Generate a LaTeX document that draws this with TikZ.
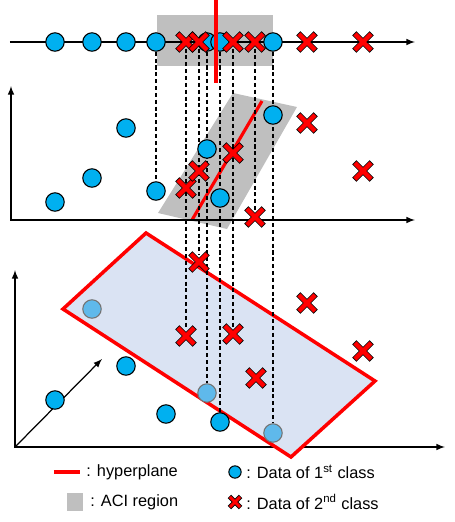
\documentclass[tikz,border=0pt]{standalone}
\usepackage{fontspec}
\setmainfont{Liberation Sans}
\usetikzlibrary{shapes.misc}
\definecolor{dotblue}{RGB}{0,176,240}
\definecolor{fadeblue}{RGB}{95,185,235}
\definecolor{regiongray}{RGB}{191,191,191}
\definecolor{planeblue}{RGB}{218,227,243}
\pgfdeclarelayer{back}
\pgfdeclarelayer{guides}
\pgfsetlayers{back,guides,main}

\begin{document}
\begin{tikzpicture}[x=0.02cm,y=-0.02cm,
  every node/.style={font=\fontsize{9.3}{11}\selectfont},
  dot/.style={draw=black,circle,fill=dotblue,line width=0.6pt,minimum size=10.5pt,inner sep=0pt},
  dotfade/.style={dot,draw=black!55,fill=fadeblue},
  crs/.style={cross out,draw=black,line width=0.45pt,double=red,double distance=2.5pt,line cap=rect,minimum size=7pt,inner sep=0pt},
  guide/.style={dash pattern=on 2.3pt off 1.6pt,line width=0.6pt}]
\useasboundingbox (0,0) rectangle (455,522);

\begin{pgfonlayer}{back}
% ACI regions and hyperplane of the middle plot
\fill [regiongray] (157,15) rectangle (273,66);
\fill [regiongray] (233,93) -- (297,107) -- (227,229) -- (158,213) -- cycle;
\draw [red,line width=1.8pt] (192,220) -- (262,101);
% axes
\draw [-latex,line width=0.7pt] (10,42) -- (415,42);
\draw [latex-latex,line width=0.7pt] (11,86) -- (11,220) -- (415,220);
\draw [latex-latex,line width=0.7pt] (15,270) -- (15,447) -- (445,447);
\draw [-latex,line width=0.7pt] (15,447) -- (102,359);
% hyperplane in the lifted space
\draw [red,line width=2pt,fill=planeblue] (63,309) -- (146,233) -- (375,381) -- (291,457) -- cycle;
\end{pgfonlayer}

% top line
\node [dot] (t1) at (55,42) {};
\node [dot] (t2) at (92,42) {};
\node [dot] (t3) at (126,42) {};
\node [dot] (t4) at (156,42) {};
\node [dot] (t5) at (207,42) {};
\node [dot] (t6) at (220,42) {};
\node [dot] (t7) at (273,42) {};
\node [crs] (tx1) at (186,42) {};
\node [crs] (tx2) at (199,42) {};
\node [crs] (tx3) at (233,42) {};
\node [crs] (tx4) at (255,42) {};
\node [crs] (tx5) at (307,42) {};
\node [crs] (tx6) at (363,42) {};

% middle plot
\node [dot] (m1) at (55,202) {};
\node [dot] (m2) at (92,178) {};
\node [dot] (m3) at (126,128) {};
\node [dot] (m4) at (156,191) {};
\node [dot] (m5) at (207,149) {};
\node [dot] (m6) at (220,198) {};
\node [dot] (m7) at (273,115) {};
\node [crs] (mx1) at (186,188) {};
\node [crs] (mx2) at (199,171) {};
\node [crs] (mx3) at (233,153) {};
\node [crs] (mx4) at (255,217) {};
\node [crs] (mx5) at (307,123) {};
\node [crs] (mx6) at (363,171) {};

% bottom plot
\node [dotfade] (b1) at (92,309) {};
\node [dot] (b2) at (126,366) {};
\node [dot] (b3) at (55,400) {};
\node [dot] (b4) at (166,414) {};
\node [dotfade] (b5) at (207,393) {};
\node [dot] (b6) at (220,422) {};
\node [dotfade] (b7) at (273,433) {};
\node [crs] (bx1) at (186,336) {};
\node [crs] (bx2) at (199,262) {};
\node [crs] (bx3) at (233,334) {};
\node [crs] (bx4) at (256,378) {};
\node [crs] (bx5) at (307,303) {};
\node [crs] (bx6) at (363,351) {};

\begin{pgfonlayer}{guides}
\draw [guide] (t4) to (m4);
\draw [guide] (tx1) to (bx1);
\draw [guide] (tx2) to (bx2);
\draw [guide] (t5) to (b5);
\draw [guide] (t6) to (b6);
\draw [guide] (tx3) to (bx3);
\draw [guide] (tx4) to (mx4);
\draw [guide] (t7) to (b7);
\end{pgfonlayer}

\draw [red,line width=2.3pt] (216,0) -- (216,83);

% legend
\draw [red,line width=2.3pt] (54,472) -- (80,472);
\fill [regiongray] (67,493) rectangle (83,511);
\node [anchor=west,inner sep=0pt] (lplane) at (86,472) {: hyperplane};
\node [anchor=west,inner sep=0pt] (lregion) at (90,502) {: ACI region};
\node [dot,minimum size=7pt] (ldot) at (235,472) {};
\node [crs,minimum size=4pt,double distance=1.8pt] (lcrs) at (235,502) {};
\node [anchor=west,inner sep=0pt] (lfirst) at (246,472) {: Data of 1\textsuperscript{st} class};
\node [anchor=west,inner sep=0pt] (lsecond) at (246,502) {: Data of 2\textsuperscript{nd} class};
\end{tikzpicture}
\end{document}
